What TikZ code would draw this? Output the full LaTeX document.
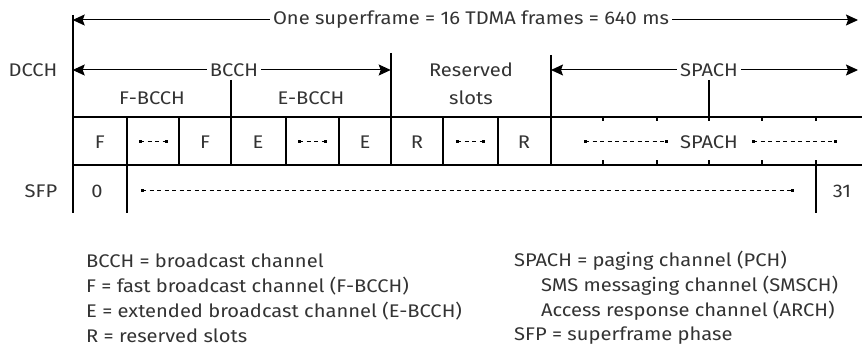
\documentclass[tikz,border=0pt]{standalone}
\usepackage{fontspec}
\setmainfont[FakeStretch=1.1]{Fira Sans}
\usetikzlibrary{arrows.meta}
\begin{document}
\begin{tikzpicture}[x=1pt,y=-1pt,
  txt/.style={font=\fontsize{18.3}{20}\selectfont, inner sep=1pt, text=black!80},
  lab/.style={txt, fill=white, inner sep=3pt},
  dim/.style={line width=1pt, {Stealth[length=12pt,width=11pt,inset=2pt]}-{Stealth[length=12pt,width=11pt,inset=2pt]}},
  rule/.style={line width=2.2pt},
  gap/.style={line width=1pt, dash pattern=on 4pt off 3.5pt},
  endsq/.style={fill=black, minimum size=3pt, inner sep=0pt},
]
\useasboundingbox (0,0) rectangle (862,363);

\def\ytop{117}\def\ybot{165}\def\ysfp{213}

% superframe dimension
\coordinate (sfA) at (72.7,20);
\coordinate (sfB) at (858,20);
\draw[dim] (sfA) -- (sfB);
\node[lab] (sfl) at (471,20) {One superframe = 16 TDMA frames = 640 ms};

% DCCH row
\node[txt] (dcch) at (33,70) {DCCH};
\coordinate (bA) at (72.7,70);
\coordinate (bB) at (390.7,70);
\draw[dim] (bA) -- (bB);
\node[lab] (bcch) at (234,70) {BCCH};
\coordinate (sA) at (551,70);
\coordinate (sB) at (858,70);
\draw[dim] (sA) -- (sB);
\node[lab] (spach) at (709,70) {SPACH};
\node[txt] (res) at (471,70) {Reserved};
\node[txt] (slots) at (471,98) {slots};
\node[txt] (fb) at (152,98) {F-BCCH};
\node[txt] (eb) at (311,98) {E-BCCH};

% group boundaries above the slots
\draw[rule] (72.7,15) -- (72.7,\ysfp);
\draw[rule] (231,80) -- (231,\ybot);
\draw[rule] (390.7,53) -- (390.7,\ybot);
\draw[rule] (551,55) -- (551,\ybot);
\draw[rule] (709,80) -- (709,\ytop);

% slot row
\draw[rule] (72.7,\ytop) -- (862,\ytop);
\draw[rule] (72.7,\ybot) -- (862,\ybot);
\foreach \x in {126.7,179,285.7,339,443,497.7}
  \draw[rule] (\x,\ytop) -- (\x,\ybot);
\foreach \x in {602.7,656.7,709,762,815.7}{
  \draw[rule] (\x,\ytop) -- (\x,\ytop+4.5);
  \draw[rule] (\x,\ybot) -- (\x,\ybot-4.5);
}

% slot contents
\foreach \x/\t [count=\i] in {99.7/F,205/F,258/E,365/E,417/R,524/R}
  \node[txt] (slot\i) at (\x,142) {\t};
\foreach \x [count=\i] in {153,312,470}{
  \draw[gap] (\x-13,142) -- (\x+13,142);
  \node[endsq] (dl\i) at (\x-13,142) {};
  \node[endsq] (dr\i) at (\x+13,142) {};
}
\node[txt] (sp) at (709,142) {SPACH};
\draw[gap] (585,142) -- (666,142);
\node[endsq] at (585,142) {};
\node[endsq] at (666,142) {};
\draw[gap] (753,142) -- (835,142);
\node[endsq] at (753,142) {};
\node[endsq] at (835,142) {};

% superframe phase row
\node[txt] (sfp) at (41,191) {SFP};
\draw[rule] (126.7,\ybot) -- (126.7,\ysfp);
\draw[rule] (815.7,\ybot) -- (815.7,\ysfp);
\node[txt] (p0) at (97,191) {0};
\node[txt] (p31) at (842,191) {31};
\draw[gap] (142,191) -- (792,191);
\node[endsq] at (142,191) {};
\node[endsq] at (792,191) {};

% legend
\node[txt, anchor=west] (k1) at (85,261) {BCCH = broadcast channel};
\node[txt, anchor=west] (k2) at (85,286) {F = fast broadcast channel (F-BCCH)};
\node[txt, anchor=west] (k3) at (85,311) {E = extended broadcast channel (E-BCCH)};
\node[txt, anchor=west] (k4) at (85,336) {R = reserved slots};
\node[txt, anchor=west] (k5) at (513,261) {SPACH = paging channel (PCH)};
\node[txt, anchor=west] (k6) at (540,286) {SMS messaging channel (SMSCH)};
\node[txt, anchor=west] (k7) at (540,311) {Access response channel (ARCH)};
\node[txt, anchor=west] (k8) at (513,336) {SFP = superframe phase};
\end{tikzpicture}
\end{document}
